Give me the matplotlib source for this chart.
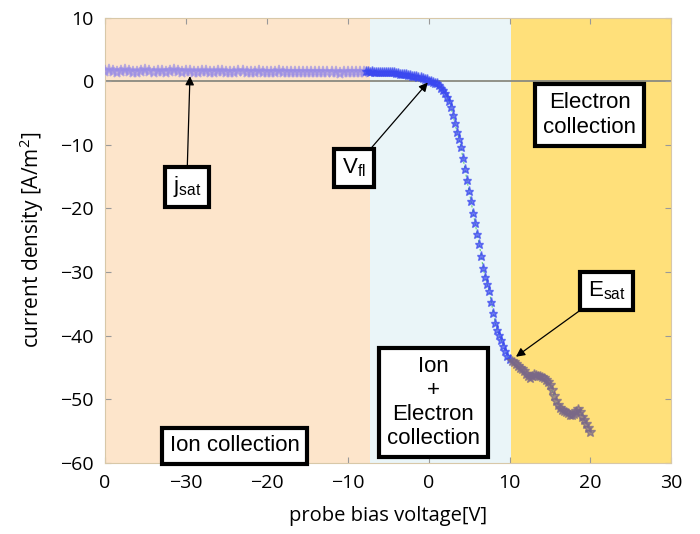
import numpy as np
import matplotlib
matplotlib.use("Agg")
import matplotlib.pyplot as plt

# ---------------- data ----------------
# ion-collection region (bias -40 .. -8 V, 0.5 V steps)
v_ion = np.arange(-40.0, -7.99, 0.5)
j_ion = [1.6, 1.7, 1.6, 1.5, 1.6, 1.7, 1.6, 1.5, 1.5, 1.6, 1.7, 1.6, 1.5, 1.6, 1.6, 1.5,
         1.6, 1.7, 1.6, 1.5, 1.6, 1.6, 1.5, 1.5, 1.6, 1.6, 1.5, 1.5, 1.6, 1.6, 1.5, 1.4,
         1.5, 1.6, 1.6, 1.5, 1.4, 1.5, 1.6, 1.5, 1.5, 1.4, 1.5, 1.6, 1.5, 1.4, 1.4, 1.5,
         1.5, 1.4, 1.4, 1.5, 1.5, 1.4, 1.4, 1.5, 1.5, 1.4, 1.3, 1.4, 1.5, 1.4, 1.4, 1.4, 1.5]
# transition region (-7.75 .. 10 V, 0.25 V steps)
v_tr = np.arange(-7.75, 10.001, 0.25)
j_tr = [1.6, 1.6, 1.5, 1.6, 1.5, 1.5, 1.5, 1.5, 1.5, 1.5, 1.4, 1.5, 1.4, 1.4, 1.4, 1.3,
        1.3, 1.2, 1.2, 1.1, 1.1, 1.0, 1.0, 0.9, 0.9, 0.8, 0.7, 0.6, 0.5, 0.4, 0.3, 0.1,
        0.0, -0.1, -0.2, -0.3, -0.6, -1.0, -1.4, -1.9, -2.4, -3.1, -4.0, -5.3, -6.6, -7.9,
        -9.0, -10.4, -12.1, -13.8, -15.6, -17.3, -18.9, -20.7, -22.3, -24.0, -25.6, -27.4,
        -29.4, -30.8, -31.9, -33.0, -34.7, -36.4, -38.0, -39.1, -39.9, -40.7, -41.6, -42.4,
        -43.2, -43.7]
# electron-collection region (10.25 .. 20 V, 0.25 V steps)
v_el = np.arange(10.25, 20.001, 0.25)
j_el = [-44.0, -44.2, -44.5, -44.8, -45.1, -45.3, -45.6, -46.0, -46.4, -46.6, -46.3, -46.0,
        -46.1, -46.3, -46.4, -46.5, -46.6, -46.9, -47.3, -47.8, -48.6, -49.5, -50.3, -50.9,
        -51.3, -51.6, -51.8, -52.0, -52.2, -52.4, -52.5, -52.3, -51.9, -51.5, -52.0, -52.8,
        -53.3, -53.8, -54.5, -55.2]

# region boundaries [V]
ion_region = (-40, -7.3)
mix_region = (-7.3, 10.2)
el_region = (10.2, 30)

x_ticks = [-40, -30, -20, -10, 0, 10, 20, 30]
x_ticklabels = ["0", "\u221230", "\u221220", "\u221210", "0", "10", "20", "30"]
y_ticks = [10, 0, -10, -20, -30, -40, -50, -60]

# ---------------- figure ----------------
plt.rcParams["mathtext.default"] = "regular"
fig = plt.figure(figsize=(7.0, 5.34), dpi=100)
ax = fig.add_axes([0.150, 0.133, 0.809, 0.834])

ax.axvspan(*ion_region, color="#fde5cb", lw=0, zorder=0)
ax.axvspan(*mix_region, color="#eaf5f8", lw=0, zorder=0)
ax.axvspan(*el_region, color="#ffe07a", lw=0, zorder=0)

ax.axhline(0, color="#8a8a80", lw=1.3, zorder=1)

v_all = np.concatenate([v_tr, v_el])
j_all = np.concatenate([j_tr, j_el])
mask = v_all >= 2
ax.plot(v_all[mask], j_all[mask], ls=(0, (2, 2)), color="#5fd07a", lw=0.8, zorder=2)

mk = dict(ls="none", marker="*", zorder=3)
ax.plot(v_ion, j_ion, color="#9a8de6", alpha=0.6, ms=8.5, mew=1.2, **mk)
ax.plot(v_tr, j_tr, color="#3a48f0", alpha=0.7, ms=6.5, mew=1.0, **mk)
ax.plot(v_el, j_el, color="#7a6888", alpha=0.7, ms=7, mew=1.0, **mk)

ax.set_xlim(-40, 30)
ax.set_ylim(-60, 10)
ax.set_xticks(x_ticks)
ax.set_xticklabels(x_ticklabels)
ax.set_yticks(y_ticks)
tickfont = "Open Sans"
for lab in ax.get_xticklabels() + ax.get_yticklabels():
    lab.set_family(tickfont)
    lab.set_fontsize(14)
ax.tick_params(direction="in", length=4, width=0.8, color="#999999",
               top=True, right=True)
ax.tick_params(axis="y", pad=8)
ax.tick_params(axis="x", pad=8)
for s in ax.spines.values():
    s.set_color("#d8c8a8")
    s.set_linewidth(0.8)

ax.set_xlabel("probe bias voltage[V]", family=tickfont, fontsize=14.5, labelpad=10)
ax.set_ylabel("current density [A/m$^2$]", family=tickfont, fontsize=15, labelpad=10)

box = dict(boxstyle="square,pad=0.35", fc="white", ec="black", lw=3)
tf = dict(family="Liberation Sans", fontsize=16, ha="center", va="center", zorder=5)
arr = dict(arrowstyle="-|>", color="black", lw=0.9, mutation_scale=13, shrinkA=0, shrinkB=0)

ax.text(19.9, -5.3, "Electron\ncollection", bbox=box, linespacing=1.3, **tf)
ax.text(-24.0, -57.3, "Ion collection", bbox=box, **tf)
ax.text(0.6, -50.5, "Ion\n+\nElectron\ncollection", bbox=box, linespacing=1.2, **tf)

ax.annotate("j$_{sat}$", xy=(-29.5, 0.8), xytext=(-29.9, -16.6), bbox=box,
            arrowprops=arr, **tf)
ax.annotate("V$_{fl}$", xy=(-0.1, -0.2), xytext=(-9.2, -13.6), bbox=box,
            arrowprops=arr, **tf)
ax.annotate("E$_{sat}$", xy=(10.8, -43.3), xytext=(22.0, -33.0), bbox=box,
            arrowprops=arr, **tf)

fig.savefig("out.png", dpi=100)
